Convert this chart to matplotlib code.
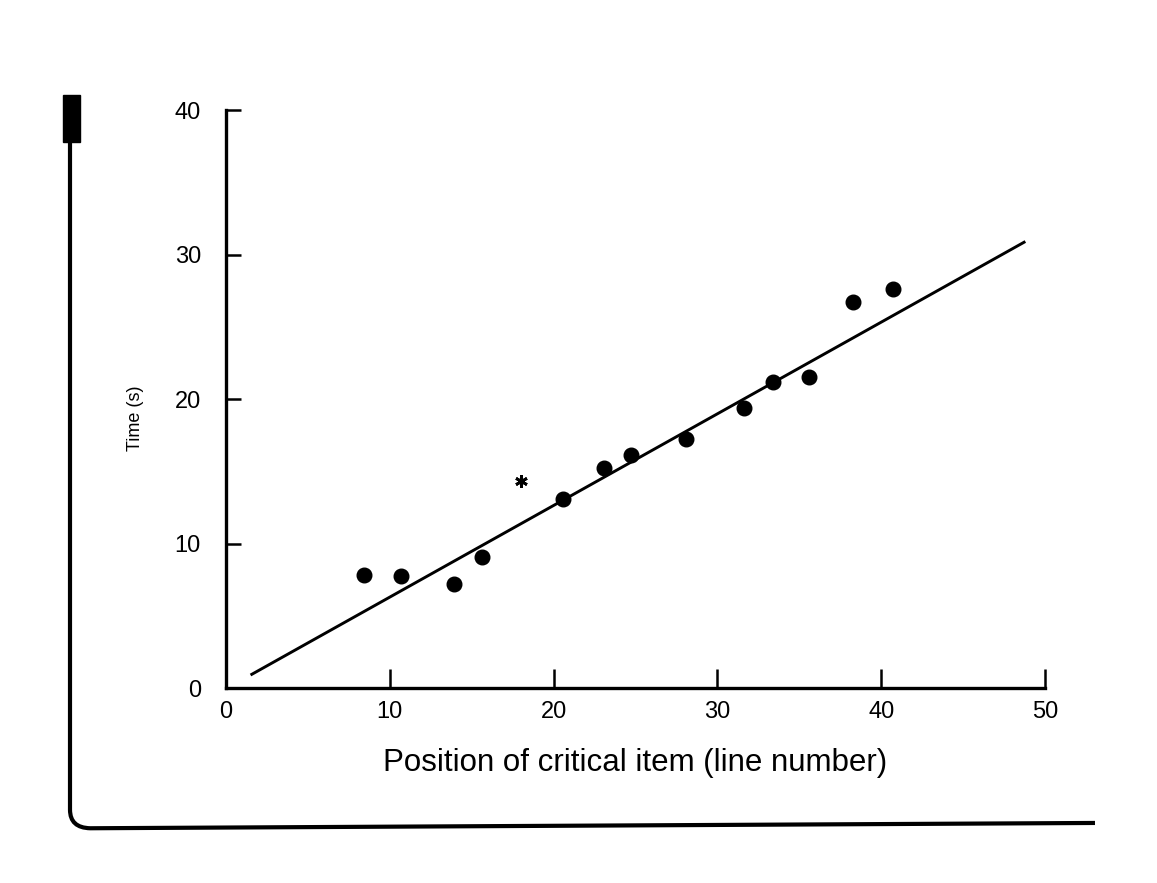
import matplotlib.pyplot as plt
from matplotlib.patches import PathPatch, Rectangle
from matplotlib.path import Path

plt.rcParams['font.family'] = ['Liberation Sans Narrow', 'Liberation Sans', 'DejaVu Sans']

# values
position = [8.4, 10.7, 13.9, 15.6, 20.6, 23.1, 24.7, 28.1, 31.6, 33.4, 35.6, 38.3, 40.7]
time_s = [7.8, 7.75, 7.2, 9.1, 13.1, 15.2, 16.1, 17.2, 19.4, 21.2, 21.5, 26.7, 27.6]
star_position = [18.0]
star_time = [14.3]
fit_x = [1.5, 48.8]
fit_y = [0.9, 30.9]
x_ticks = [0, 10, 20, 30, 40, 50]
y_ticks = [0, 10, 20, 30, 40]

fig = plt.figure(figsize=(11.57, 8.83), dpi=100)
ax = fig.add_axes([0.1953, 0.2208, 0.7079, 0.6546])

ax.plot(fit_x, fit_y, color='black', lw=2.1, solid_capstyle='butt')
ax.plot(position, time_s, 'o', color='black', ms=10.5)
ax.plot(star_position, star_time, marker=(6, 2, 0), ls='none', color='black', ms=9, mew=2)

ax.set_xlim(0, 50)
ax.set_ylim(0, 40)
ax.set_xticks(x_ticks)
ax.set_yticks(y_ticks)
for s in ['top', 'right']:
    ax.spines[s].set_visible(False)
for s in ['left', 'bottom']:
    ax.spines[s].set_linewidth(2.4)
ax.tick_params(direction='in', width=1.8, labelsize=17)
ax.tick_params(axis='y', pad=18, length=11)
ax.tick_params(axis='x', pad=9, length=14)
ax.set_xlabel('Position of critical item (line number)', fontsize=22.5, labelpad=18)
ax.set_ylabel('Time (s)', fontsize=13)
ax.yaxis.set_label_coords(-0.1, 0.467)

# the bracket drawn round the figure in the scan
verts = [(0.0605, 0.8414), (0.0605, 0.0830), (0.0605, 0.0625), (0.0780, 0.0620),
         (0.9464, 0.0680)]
codes = [Path.MOVETO, Path.LINETO, Path.CURVE3, Path.CURVE3, Path.LINETO]
fig.add_artist(PathPatch(Path(verts, codes), transform=fig.transFigure,
                         fill=False, lw=3, edgecolor='black'))
fig.add_artist(Rectangle((0.0545, 0.839), 0.0146, 0.053, transform=fig.transFigure,
                         color='black'))

fig.savefig('out.png', dpi=100)
